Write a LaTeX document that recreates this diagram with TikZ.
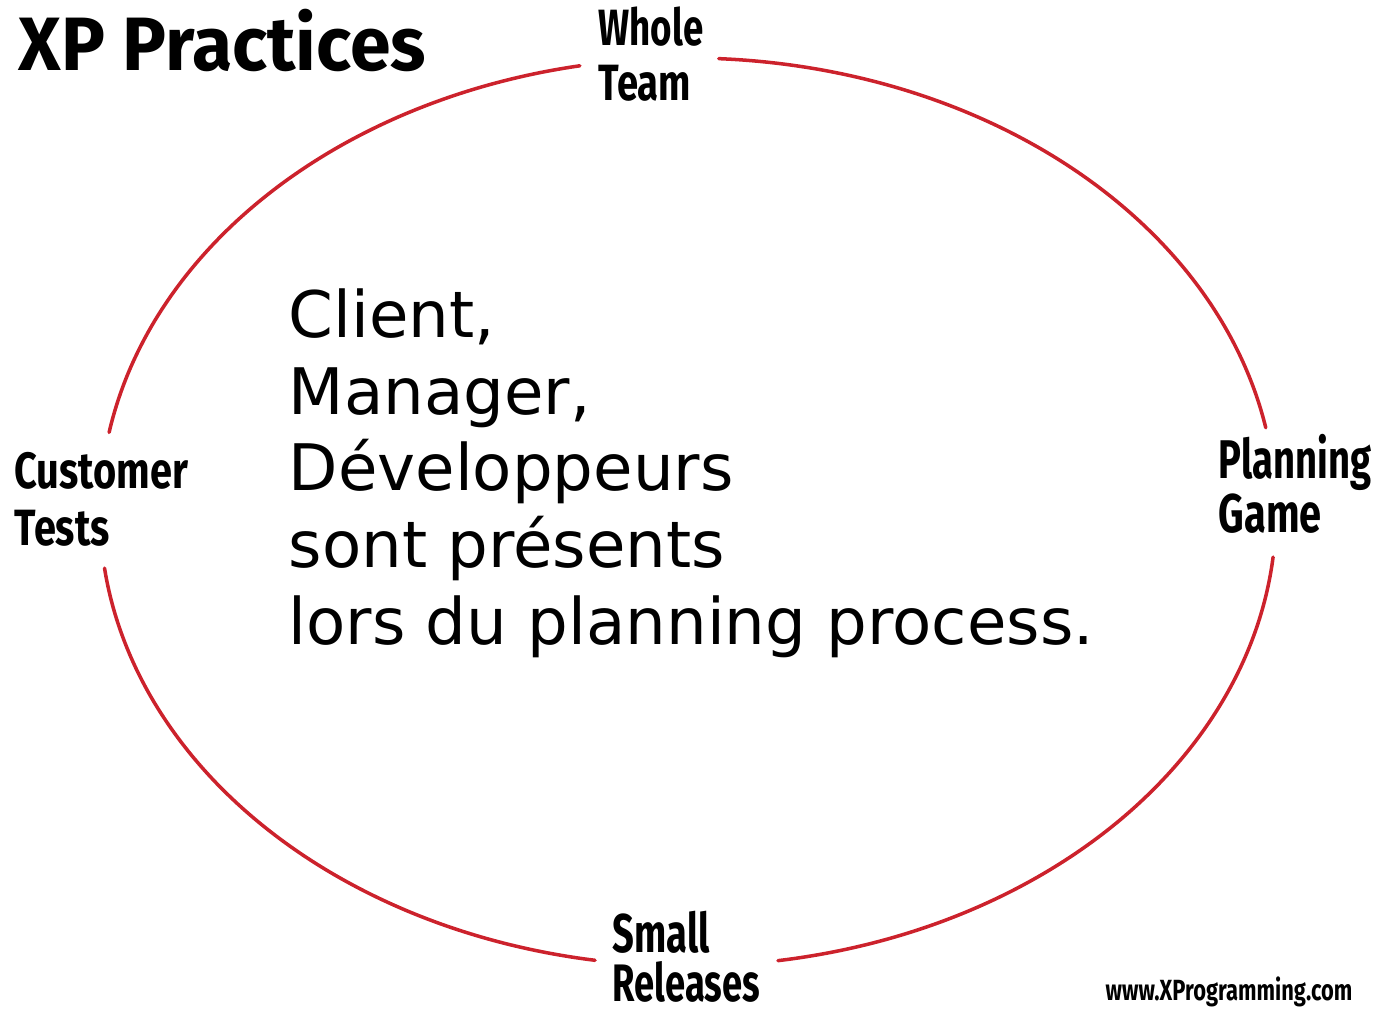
\documentclass[tikz,border=0pt]{standalone}
\usepackage{fontspec}
\usepackage{graphicx}
\setmainfont{DejaVu Sans}
\newfontfamily\handfont{Fira Sans}
\usetikzlibrary{positioning}
\definecolor{c0}{RGB}{204,34,44}
\tikzset{%
  ring/.style={draw=c0,line width=1pt,line cap=round},
  hand/.style={inner sep=0pt,anchor=base west,font=\handfont\bfseries\fontsize{#1}{#1}\selectfont},
  hand/.default=14.5
}
% one arc of the ring, angles in degrees
\newcommand\ringarc[2]{%
  \draw[ring] plot[domain=#1:#2,samples=80,smooth] ({688+588*cos(\x)},{512+454*sin(\x)});
}
% narrow hand lettering
\newcommand\squeeze[2][0.72]{\scalebox{#1}[1]{#2}}

\begin{document}
\begin{tikzpicture}[x=0.01cm,y=-0.01cm]
  \useasboundingbox (0,0) rectangle (1373,1017);
  % Ring
  \ringarc{-87}{-10.7}
  \ringarc{5.7}{81.2}
  \ringarc{99.1}{172.9}
  \ringarc{190.1}{259.4}
  % Title
  \node[hand=21.5] (title) at (18,70) {\squeeze[0.97]{XP Practices}};
  % Practices round the ring
  \node[hand] (whole) at (598,45) {\squeeze{Whole}};
  \node[hand] (team) at (598,100) {\squeeze[0.75]{Team}};
  \node[hand] (cust) at (14,488) {\squeeze[0.78]{Customer}};
  \node[hand] (tests) at (14,545) {\squeeze[0.78]{Tests}};
  \node[hand=15.5] (plan) at (1218,478) {\squeeze[0.7]{Planning}};
  \node[hand=15.5] (game) at (1218,532) {\squeeze[0.73]{Game}};
  \node[hand=15.5] (small) at (612,952) {\squeeze[0.7]{Small}};
  \node[hand=15] (rel) at (612,1001) {\squeeze[0.69]{Releases}};
  \node[hand=8.3] (url) at (1105,1000) {\squeeze[0.75]{www.XProgramming.com}};
  % Centre text
  \node[inner sep=0pt,anchor=north west,align=left,
    font=\fontsize{18.25}{21.8}\selectfont] (body) at (288,288)
    {Client,\\Manager,\\Développeurs\\sont présents\\lors du planning process.};
\end{tikzpicture}
\end{document}
